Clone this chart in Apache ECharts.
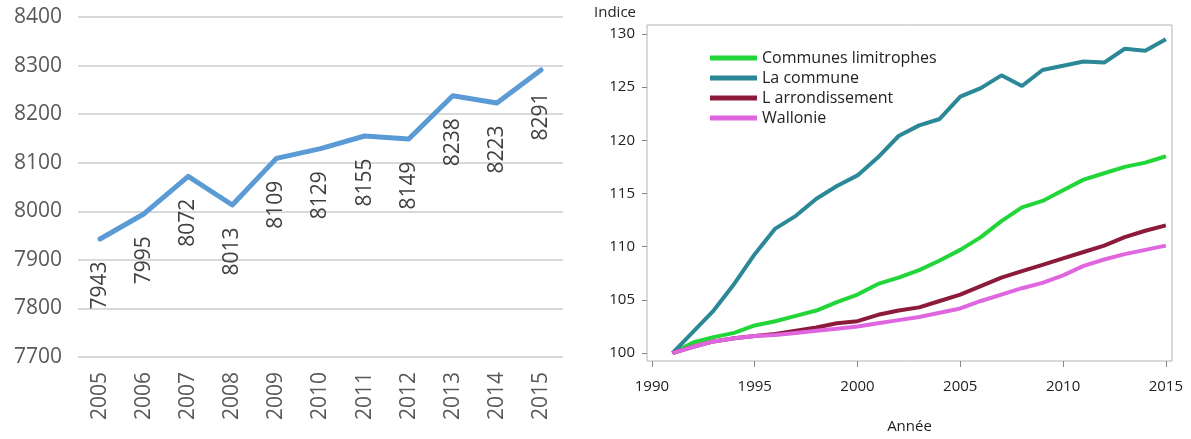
<!DOCTYPE html>
<html>
<head>
<meta charset="utf-8">
<script src="https://cdn.jsdelivr.net/npm/echarts@6/dist/echarts.min.js"></script>
<style>
html,body{margin:0;padding:0;background:#fff;}
#c{width:1191px;height:439px;}
</style>
</head>
<body>
<div id="c"></div>
<script>
// ---- Left chart data ----
const years = ['2005','2006','2007','2008','2009','2010','2011','2012','2013','2014','2015'];
const population = [7943, 7995, 8072, 8013, 8109, 8129, 8155, 8149, 8238, 8223, 8291];

// ---- Right chart data ----
const indexYears = [1991,1992,1993,1994,1995,1996,1997,1998,1999,2000,2001,2002,2003,2004,2005,2006,2007,2008,2009,2010,2011,2012,2013,2014,2015];
const communesLimitrophes = [100,101.0,101.5,101.9,102.6,103.0,103.5,104.0,104.8,105.5,106.5,107.1,107.8,108.7,109.7,110.9,112.4,113.7,114.3,115.3,116.3,116.9,117.5,117.9,118.5];
const laCommune = [100,102.0,104.0,106.5,109.3,111.7,112.9,114.5,115.7,116.7,118.4,120.4,121.4,122.0,124.1,124.9,126.1,125.1,126.6,127.0,127.4,127.3,128.6,128.4,129.5];
const arrondissement = [100,100.6,101.1,101.4,101.6,101.8,102.1,102.4,102.8,103.0,103.6,104.0,104.3,104.9,105.5,106.3,107.1,107.7,108.3,108.9,109.5,110.1,110.9,111.5,112.0];
const wallonie = [100,100.6,101.1,101.4,101.6,101.7,101.9,102.1,102.3,102.5,102.8,103.1,103.4,103.8,104.2,104.9,105.5,106.1,106.6,107.3,108.2,108.8,109.3,109.7,110.1];
const seriesNames = ['Communes limitrophes','La commune','L arrondissement','Wallonie'];
const rightXTicks = [1990,1995,2000,2005,2010,2015];
const rightYTicks = [100,105,110,115,120,125,130];

const pairs = arr => indexYears.map((y,i)=>[y, arr[i]]);
const colors = ['#22d63a','#2b8896','#8c1b3b','#e066e0'];
const rightFont = 'Open Sans';
const plain = v => String(v);

const chart = echarts.init(document.getElementById('c'), null, {renderer:'canvas'});
chart.setOption({
  animation:false,
  backgroundColor:'#fff',
  grid:[
    {left:78, top:17, width:485, height:340},
    {left:647, top:25, width:525, height:341, show:true, borderColor:'#b4b4b4', borderWidth:1, backgroundColor:'transparent'}
  ],
  legend:{
    data:seriesNames,
    orient:'vertical',
    left:705, top:45,
    itemWidth:47, itemHeight:5, itemGap:4,
    icon:'rect',
    textStyle:{fontFamily:rightFont, fontSize:16, color:'#222', lineHeight:16},
  },
  xAxis:[
    {gridIndex:0, type:'category', data:years, boundaryGap:true,
     axisLine:{show:false}, axisTick:{show:false},
     axisLabel:{rotate:90, margin:15, fontFamily:'Open Sans', fontSize:21, color:'#595959'}},
    {gridIndex:1, type:'value', min:1989.76, max:2015.3,
     axisLine:{show:false}, splitLine:{show:false},
     axisTick:{show:true, length:6, lineStyle:{color:'#888'}, customValues:rightXTicks},
     axisLabel:{fontFamily:rightFont, fontSize:15, color:'#222', margin:18, customValues:rightXTicks, formatter:plain},
     name:'Année', nameLocation:'middle', nameGap:58,
     nameTextStyle:{fontFamily:rightFont, fontSize:15, color:'#222'}}
  ],
  yAxis:[
    {gridIndex:0, type:'value', min:7700, max:8400, interval:100,
     axisLine:{show:false}, axisTick:{show:false},
     splitLine:{lineStyle:{color:'#d9d9d9', width:2}},
     axisLabel:{margin:16, fontFamily:'Open Sans', fontSize:21, color:'#595959', formatter:plain}},
    {gridIndex:1, type:'value', min:99.26, max:130.83,
     axisLine:{show:false}, splitLine:{show:false},
     axisTick:{show:true, length:5, lineStyle:{color:'#888'}, customValues:rightYTicks},
     axisLabel:{fontFamily:rightFont, fontSize:15, color:'#222', margin:12, customValues:rightYTicks, formatter:plain},
     name:'Indice', nameLocation:'end', nameGap:5,
     nameTextStyle:{fontFamily:rightFont, fontSize:15, color:'#222', align:'right', padding:[0,11,0,0]}}
  ],
  series:[
    {type:'line', xAxisIndex:0, yAxisIndex:0, data:population, symbol:'circle', symbolSize:1, showSymbol:true,
     itemStyle:{color:'#5b9bd5', opacity:0},
     lineStyle:{color:'#5b9bd5', width:5, cap:'round', join:'round'},
     label:{show:true, position:'bottom', distance:22, rotate:90, align:'right', verticalAlign:'middle',
            fontFamily:'Open Sans', fontSize:21, color:'#404040', opacity:1, formatter:p=>String(p.value)}},
    {type:'line', name:seriesNames[0], xAxisIndex:1, yAxisIndex:1, data:pairs(communesLimitrophes), symbol:'none', clip:false,
     itemStyle:{color:colors[0]}, lineStyle:{color:colors[0], width:4}},
    {type:'line', name:seriesNames[1], xAxisIndex:1, yAxisIndex:1, data:pairs(laCommune), symbol:'none', clip:false,
     itemStyle:{color:colors[1]}, lineStyle:{color:colors[1], width:4}},
    {type:'line', name:seriesNames[2], xAxisIndex:1, yAxisIndex:1, data:pairs(arrondissement), symbol:'none', clip:false,
     itemStyle:{color:colors[2]}, lineStyle:{color:colors[2], width:4}},
    {type:'line', name:seriesNames[3], xAxisIndex:1, yAxisIndex:1, data:pairs(wallonie), symbol:'none', clip:false,
     itemStyle:{color:colors[3]}, lineStyle:{color:colors[3], width:4}}
  ]
});
</script>
</body>
</html>
